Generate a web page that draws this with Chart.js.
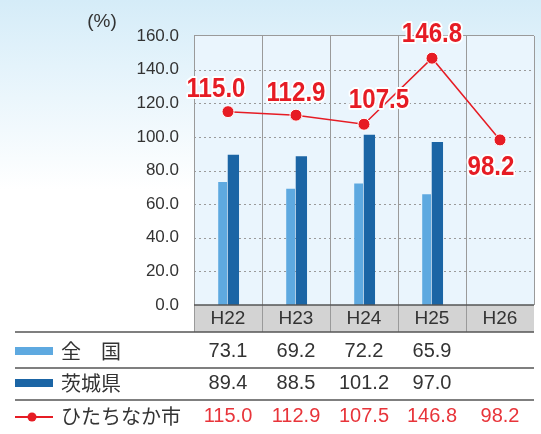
<!DOCTYPE html>
<html lang="ja">
<head>
<meta charset="utf-8">
<title>ひたちなか市 比較グラフ</title>
<script src="https://cdn.jsdelivr.net/npm/chart.js@4/dist/chart.umd.min.js"></script>
<style>
  html, body { margin: 0; padding: 0; background: #ffffff; }
  #wrap { width: 541px; height: 434px; position: relative; }
</style>
</head>
<body>
<div id="wrap"><canvas id="chart" width="541" height="434"></canvas></div>
<script>
// Fiscal years and rates (%)
const categories = ['H22', 'H23', 'H24', 'H25', 'H26'];
const nationalRate = [73.1, 69.2, 72.2, 65.9, null];
const ibarakiRate = [89.4, 88.5, 101.2, 97.0, null];
const hitachinakaRate = [115.0, 112.9, 107.5, 146.8, 98.2];
const seriesNames = ['全\u3000国', '茨城県', 'ひたちなか市'];
const yMin = 0, yMax = 160, yStep = 20;

const COLOR_LIGHT = '#5ea9e0';
const COLOR_DARK = '#1b65a5';
const COLOR_RED = '#e61c24';
const TEXT = '#333333';
const FONT = '"Liberation Sans", "DejaVu Sans", sans-serif';
const CJK = '"Noto Sans CJK JP", "Noto Sans", sans-serif';

// Page background, plot area fill, dotted value grid and top frame line
const backdrop = {
  id: 'backdrop',
  beforeDraw(chart) {
    const { ctx, chartArea: a, width, height } = chart;
    ctx.save();
    const g = ctx.createLinearGradient(0, 0, 0, 190);
    g.addColorStop(0, '#d5ecf8');
    g.addColorStop(0.35, '#e4f3fb');
    g.addColorStop(1, '#ffffff');
    ctx.fillStyle = g;
    ctx.fillRect(0, 0, width, height);
    ctx.fillStyle = '#eaf5fd';
    ctx.fillRect(a.left, a.top, a.right - a.left, a.bottom - a.top);
    ctx.restore();
  },
  beforeDatasetsDraw(chart) {
    const { ctx, chartArea: a, scales: { y } } = chart;
    ctx.save();
    ctx.strokeStyle = '#9a9a9a';
    ctx.lineWidth = 1;
    ctx.setLineDash([2, 3]);
    for (let v = yMin + yStep; v < yMax; v += yStep) {
      const py = Math.round(y.getPixelForValue(v)) + 0.5;
      ctx.beginPath();
      ctx.moveTo(a.left, py);
      ctx.lineTo(a.right, py);
      ctx.stroke();
    }
    ctx.setLineDash([]);
    ctx.lineWidth = 1.2;
    ctx.beginPath();
    ctx.moveTo(a.left, a.top - 0.5);
    ctx.lineTo(a.right, a.top - 0.5);
    ctx.stroke();
    ctx.restore();
  }
};

// Value labels above / below the city line
const lineLabels = {
  id: 'lineLabels',
  afterDatasetsDraw(chart) {
    const shift = [[-12, -25], [0, -24], [15, -26], [0, -26], [-9, 25]];
    const meta = chart.getDatasetMeta(2);
    const { ctx } = chart;
    ctx.save();
    ctx.font = 'bold 28px ' + FONT;
    ctx.textAlign = 'center';
    ctx.textBaseline = 'alphabetic';
    ctx.lineJoin = 'round';
    meta.data.forEach((pt, i) => {
      const v = hitachinakaRate[i];
      if (v == null) return;
      const txt = v.toFixed(1);
      ctx.save();
      ctx.translate(pt.x + shift[i][0], pt.y + shift[i][1] + 10);
      ctx.scale(0.86, 1);
      ctx.strokeStyle = '#ffffff';
      ctx.lineWidth = 4;
      ctx.strokeText(txt, 0, 0);
      ctx.fillStyle = COLOR_RED;
      ctx.fillText(txt, 0, 0);
      ctx.restore();
    });
    ctx.restore();
  }
};

// Category header band and data table under the plot
const dataTable = {
  id: 'dataTable',
  afterDraw(chart) {
    const { ctx, chartArea: a, scales: { x } } = chart;
    const bandTop = a.bottom, bandBottom = a.bottom + 27;
    const rowLines = [bandBottom, bandBottom + 36, bandBottom + 68];
    const rowCenters = [bandBottom + 19, bandBottom + 51, bandBottom + 84];
    const half = (x.getPixelForValue(1) - x.getPixelForValue(0)) / 2;
    ctx.save();
    // header band
    ctx.fillStyle = '#d3d3d3';
    ctx.fillRect(a.left, bandTop, a.right - a.left, bandBottom - bandTop);
    ctx.strokeStyle = '#9a9a9a';
    ctx.lineWidth = 1;
    categories.forEach((c, i) => {
      const px = Math.round(x.getPixelForValue(i) - half) + 0.5;
      ctx.beginPath();
      ctx.moveTo(px, bandTop);
      ctx.lineTo(px, bandBottom);
      ctx.stroke();
    });
    ctx.fillStyle = TEXT;
    ctx.font = '19px ' + FONT;
    ctx.textAlign = 'center';
    ctx.textBaseline = 'middle';
    categories.forEach((c, i) => ctx.fillText(c, x.getPixelForValue(i), bandTop + 14));
    // axis line above the band
    ctx.strokeStyle = '#555555';
    ctx.lineWidth = 1.5;
    ctx.beginPath();
    ctx.moveTo(a.left, bandTop);
    ctx.lineTo(a.right, bandTop);
    ctx.stroke();
    // table rules
    rowLines.forEach(y => {
      ctx.beginPath();
      ctx.moveTo(15, y);
      ctx.lineTo(a.right, y);
      ctx.stroke();
    });
    // legend keys
    ctx.fillStyle = COLOR_LIGHT;
    ctx.fillRect(15, rowCenters[0] - 4, 38, 8);
    ctx.fillStyle = COLOR_DARK;
    ctx.fillRect(15, rowCenters[1] - 4, 38, 8);
    ctx.strokeStyle = COLOR_RED;
    ctx.lineWidth = 2;
    ctx.beginPath();
    ctx.moveTo(15, rowCenters[2] + 1);
    ctx.lineTo(53, rowCenters[2] + 1);
    ctx.stroke();
    ctx.fillStyle = COLOR_RED;
    ctx.beginPath();
    ctx.arc(32, rowCenters[2] + 1, 4.5, 0, Math.PI * 2);
    ctx.fill();
    // series names
    ctx.textAlign = 'left';
    ctx.fillStyle = TEXT;
    ctx.font = '20px ' + CJK;
    seriesNames.forEach((n, r) => ctx.fillText(n, 61, rowCenters[r]));
    // values
    ctx.textAlign = 'center';
    ctx.font = '20px ' + FONT;
    [nationalRate, ibarakiRate, hitachinakaRate].forEach((arr, r) => {
      ctx.fillStyle = r === 2 ? '#e8343a' : TEXT;
      arr.forEach((v, i) => {
        if (v == null) return;
        ctx.fillText(v.toFixed(1), x.getPixelForValue(i), rowCenters[r]);
      });
    });
    // unit
    ctx.fillStyle = TEXT;
    ctx.font = '19px ' + FONT;
    ctx.fillText('(%)', 102, 22);
    ctx.restore();
  }
};

new Chart(document.getElementById('chart'), {
  type: 'bar',
  data: {
    labels: categories,
    datasets: [
      {
        label: seriesNames[0],
        data: nationalRate,
        backgroundColor: COLOR_LIGHT,
        categoryPercentage: 0.3165,
        barPercentage: 0.82,
        order: 1
      },
      {
        label: seriesNames[1],
        data: ibarakiRate,
        backgroundColor: COLOR_DARK,
        categoryPercentage: 0.3165,
        barPercentage: 1.05,
        order: 1
      },
      {
        type: 'line',
        label: seriesNames[2],
        data: hitachinakaRate,
        borderColor: COLOR_RED,
        borderWidth: 1.5,
        backgroundColor: COLOR_RED,
        pointBackgroundColor: COLOR_RED,
        pointBorderColor: '#ffffff',
        pointBorderWidth: 1,
        pointRadius: 6,
        tension: 0,
        order: 0
      }
    ]
  },
  options: {
    responsive: false,
    animation: false,
    layout: { padding: { left: 0, right: 0, top: 36, bottom: 129 } },
    plugins: {
      legend: { display: false },
      tooltip: { enabled: false }
    },
    scales: {
      x: {
        offset: true,
        grid: { offset: true, color: '#9a9a9a', lineWidth: 1, drawTicks: false },
        border: { display: false },
        ticks: { display: false },
        afterFit(scale) { scale.height = 0; }
      },
      y: {
        min: yMin,
        max: yMax,
        grid: { display: false, drawTicks: false },
        border: { display: false },
        ticks: {
          stepSize: yStep,
          padding: 15,
          color: TEXT,
          font: { family: FONT, size: 17 },
          callback: v => Number(v).toFixed(1)
        },
        afterFit(scale) { scale.width = 194; }
      }
    }
  },
  plugins: [backdrop, lineLabels, dataTable]
});
</script>
</body>
</html>
